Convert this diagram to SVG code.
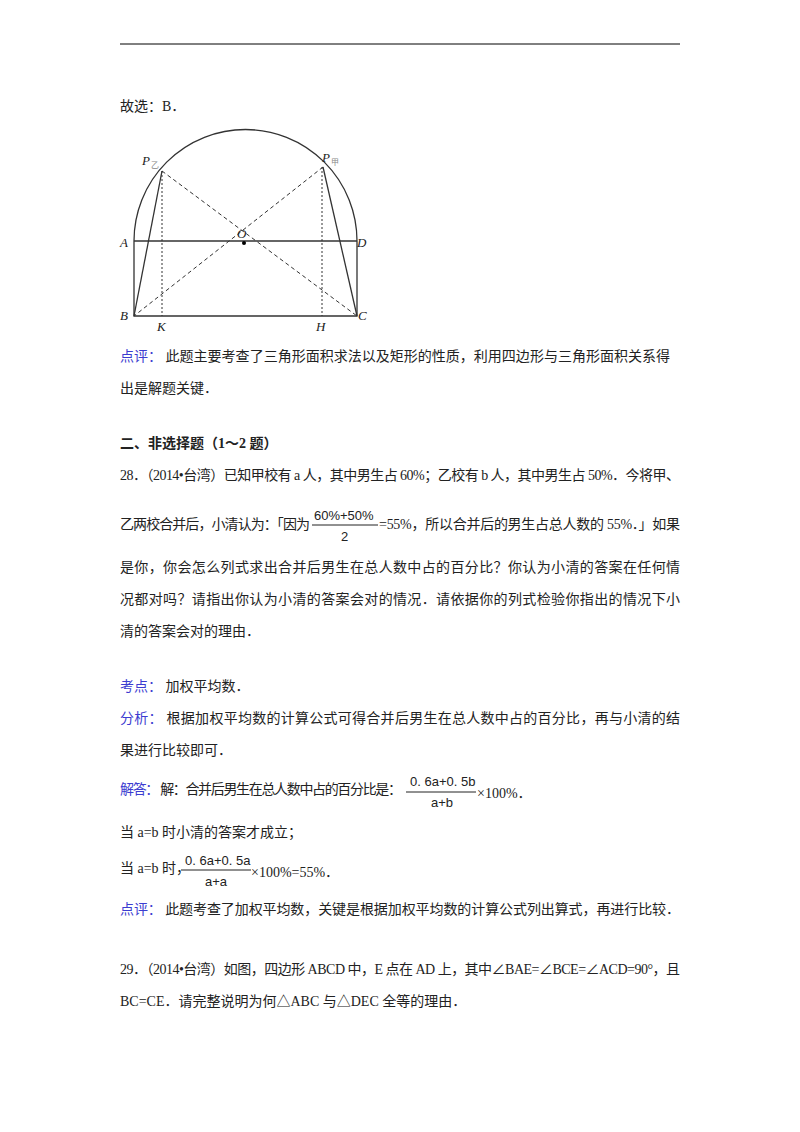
<svg xmlns="http://www.w3.org/2000/svg" width="800" height="1132" viewBox="0 0 800 1132">
<style>
text{font-family:"Liberation Serif","Noto Sans CJK SC",serif;font-size:14px;fill:#222}
.b{fill:#3c3cd0}
.m{font-family:"Liberation Sans",sans-serif;font-size:13px}
.l{font-style:italic;font-size:13px}
.sub{font-size:8px;fill:#888}
.s{stroke:#333;stroke-width:1.3;fill:none}
.d{stroke:#333;stroke-width:1;stroke-dasharray:4,3;fill:none}
.o{stroke:#333;stroke-width:1;stroke-dasharray:2,2;fill:none}
</style>
<rect width="800" height="1132" fill="#fff"/>
<line x1="120" y1="44" x2="680" y2="44" stroke="#000" stroke-width="1"/>
<text x="120" y="111">故选：B．</text>
<g id="figure">
<path class="s" d="M134,316 L134,241 A111.5,111.5 0 0 1 357,241 L357,316 Z"/>
<line class="s" x1="134" y1="241" x2="357" y2="241"/>
<line class="s" x1="134" y1="316" x2="162" y2="171"/>
<line class="s" x1="357" y1="316" x2="323" y2="167"/>
<line class="d" x1="162" y1="171" x2="357" y2="316"/>
<line class="d" x1="323" y1="167" x2="134" y2="316"/>
<line class="o" x1="162" y1="171" x2="162" y2="316"/>
<line class="o" x1="322" y1="167" x2="322" y2="316"/>
<circle cx="244" cy="243" r="2" fill="#000"/>
<text class="l" x="142" y="165">P</text><text class="sub" x="151" y="168">乙</text>
<text class="l" x="322" y="162">P</text><text class="sub" x="331" y="165">甲</text>
<text class="l" x="237" y="238">O</text>
<text class="l" x="120" y="247">A</text>
<text class="l" x="357" y="247">D</text>
<text class="l" x="120" y="320">B</text>
<text class="l" x="358" y="320">C</text>
<text class="l" x="157" y="331">K</text>
<text class="l" x="316" y="331">H</text>
</g>
<text x="120" y="361" textLength="550" lengthAdjust="spacing"><tspan class="b">点评：</tspan>  此题主要考查了三角形面积求法以及矩形的性质，利用四边形与三角形面积关系得</text>
<text x="120" y="393">出是解题关键．</text>
<text x="120" y="448" font-weight="bold">二、非选择题（1～2 题）</text>
<text x="120" y="480" textLength="560" lengthAdjust="spacing">28．（2014•台湾）已知甲校有 a 人，其中男生占 60%；乙校有 b 人，其中男生占 50%．今将甲、</text>
<text x="120" y="529" textLength="190" lengthAdjust="spacing">乙两校合并后，小清认为：「因为</text>
<text class="m" x="314" y="520">60%+50%</text>
<line x1="312" y1="525" x2="378" y2="525" stroke="#222" stroke-width="1"/>
<text class="m" x="341" y="541">2</text>
<text x="379" y="529" textLength="301" lengthAdjust="spacing">=55%，所以合并后的男生占总人数的 55%．」如果</text>
<text x="120" y="572" textLength="560" lengthAdjust="spacing">是你，你会怎么列式求出合并后男生在总人数中占的百分比？你认为小清的答案在任何情</text>
<text x="120" y="604" textLength="560" lengthAdjust="spacing">况都对吗？请指出你认为小清的答案会对的情况．请依据你的列式检验你指出的情况下小</text>
<text x="120" y="636">清的答案会对的理由．</text>
<text x="120" y="691"><tspan class="b">考点：</tspan>  加权平均数．</text>
<text x="120" y="723" textLength="560" lengthAdjust="spacing"><tspan class="b">分析：</tspan>  根据加权平均数的计算公式可得合并后男生在总人数中占的百分比，再与小清的结</text>
<text x="120" y="755">果进行比较即可．</text>
<text x="120" y="794" textLength="282" lengthAdjust="spacing"><tspan class="b">解答：</tspan>  解：合并后男生在总人数中占的百分比是：</text>
<text class="m" x="410" y="786">0. 6a+0. 5b</text>
<line x1="406" y1="792" x2="476" y2="792" stroke="#222" stroke-width="1"/>
<text class="m" x="431" y="807">a+b</text>
<text x="477" y="798">×100%．</text>
<text x="120" y="837">当 a=b 时小清的答案才成立；</text>
<text x="120" y="873">当 a=b 时，</text>
<text class="m" x="185" y="865">0. 6a+0. 5a</text>
<line x1="181" y1="870" x2="251" y2="870" stroke="#222" stroke-width="1"/>
<text class="m" x="205" y="886">a+a</text>
<text x="251" y="877">×100%=55%．</text>
<text x="120" y="914" textLength="560" lengthAdjust="spacing"><tspan class="b">点评：</tspan>  此题考查了加权平均数，关键是根据加权平均数的计算公式列出算式，再进行比较．</text>
<text x="120" y="974" textLength="560" lengthAdjust="spacing">29．（2014•台湾）如图，四边形 ABCD 中，E 点在 AD 上，其中∠BAE=∠BCE=∠ACD=90°，且</text>
<text x="120" y="1006">BC=CE．请完整说明为何△ABC 与△DEC 全等的理由．</text>
</svg>
